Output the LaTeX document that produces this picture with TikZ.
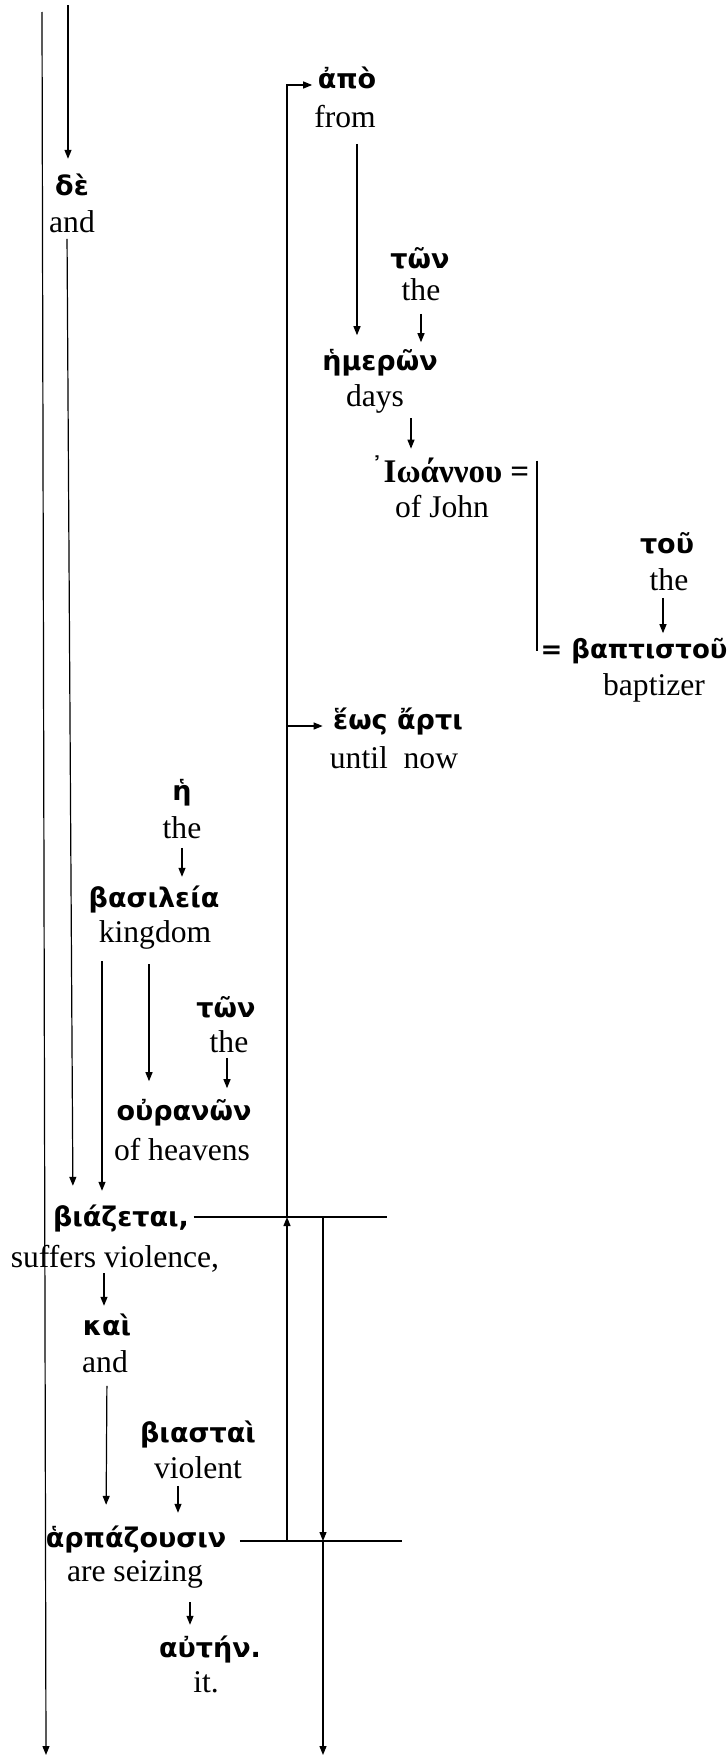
\documentclass[tikz,border=0pt]{standalone}
\usepackage{fontspec}
\setmainfont{Liberation Serif}
\newfontfamily\gkfam{DejaVu Sans}
\usetikzlibrary{arrows.meta}
\tikzset{
  gk/.style={font=\gkfam\bfseries\fontsize{13.5}{15}\selectfont, inner sep=0pt, anchor=base},
  ioa/.style={font=\bfseries\fontsize{16.5}{18}\selectfont, inner sep=0pt, anchor=base},
  en/.style={font=\fontsize{15.8}{18}\selectfont, inner sep=0pt, anchor=base},
  arr/.style={-{Triangle[length=4.5pt,width=3.5pt]}},
}
\begin{document}
\begin{tikzpicture}[x=0.5pt,y=-0.5pt,line width=0.6pt]
\useasboundingbox (0,0) rectangle (728,1756);
% ---- words
\node[gk] (gDe) at (72,195) {δὲ};
\node[en] (eDe) at (72,232) {and};
\node[gk] (gApo) at (347,88) {ἀπὸ};
\node[en] (eApo) at (345,127) {from};
\node[gk] (gTon1) at (420,268) {τῶν};
\node[en] (eTon1) at (421,300) {the};
\node[gk] (gHmer) at (380,370) {ἡμερῶν};
\node[en] (eHmer) at (375,406) {days};
\node[ioa] (gIoa) at (450,482) {{\gkfam\mdseries\fontsize{13}{14}\selectfont\raisebox{3pt}{᾿}}Ιωάννου =};
\node[en] (eIoa) at (442,517) {of John};
\node[gk] (gTou) at (667,553) {τοῦ};
\node[en] (eTou) at (669,590) {the};
\node[gk, font=\gkfam\bfseries\fontsize{13}{15}\selectfont] (gBapt) at (634,658) {= βαπτιστοῦ};
\node[en] (eBapt) at (654,695) {baptizer};
\node[gk] (gEos) at (398,729) {ἕως ἄρτι};
\node[en] (eEos) at (394,768) {until\ \ now};
\node[gk] (gHe) at (182,800) {ἡ};
\node[en] (eHe) at (182,838) {the};
\node[gk] (gBas) at (154,907) {βασιλεία};
\node[en] (eBas) at (155,942) {kingdom};
\node[gk] (gTon2) at (226,1017) {τῶν};
\node[en] (eTon2) at (229,1052) {the};
\node[gk] (gOur) at (184,1120) {οὐρανῶν};
\node[en] (eOur) at (182,1160) {of heavens};
\node[gk] (gBiaz) at (121,1226) {βιάζεται,};
\node[en] (eBiaz) at (115,1267) {suffers violence,};
\node[gk] (gKai) at (107,1335) {καὶ};
\node[en] (eKai) at (105,1372) {and};
\node[gk] (gBiast) at (198,1442) {βιασταὶ};
\node[en] (eBiast) at (198,1478) {violent};
\node[gk] (gHarp) at (136,1547) {ἁρπάζουσιν};
\node[en] (eHarp) at (135,1581) {are seizing};
\node[gk] (gAut) at (210,1657) {αὐτήν.};
\node[en] (eAut) at (206,1692) {it.};
% ---- free ends
\coordinate (t1) at (68,5);
\coordinate (L1) at (42,12);
\coordinate (L2) at (46,1755);
\coordinate (B2) at (323,1755);
% ---- horizontal bars
\draw ([xshift=2pt,yshift=4.5pt]gBiaz.base east) coordinate (hB) -- ++(193,0);
\draw ([xshift=6.5pt,yshift=3pt]gHarp.base east) coordinate (hA) -- ++(162,0);
% ---- connectors
\draw[arr] (L1) -- (L2);
\draw[arr, shorten >=7pt] (t1) -- (gDe.north -| t1);
\draw[arr, shorten <=3pt, shorten >=9pt] (eDe.south -| 67,0) -- (gBiaz.north -| 73,0);
\draw[arr] (hA -| 287,0) -- (hB -| 287,0);
\draw[arr, shorten >=2.5pt] (hB -| 287,0) |- ([yshift=1.5pt]gApo.base west);
\draw[arr, shorten >=5pt] ([yshift=1.5pt]gEos.base west -| 288,0) -- ([yshift=1.5pt]gEos.base west);
\draw[arr] (hB -| 323,0) -- (hA -| 323,0);
\draw[arr] (hA -| 323,0) -- (B2);
\draw[arr, shorten <=8pt, shorten >=6.5pt] (eApo.south -| 357,0) -- (gHmer.north -| 357,0);
\draw[arr, shorten <=6.5pt, shorten >=3pt] (eTon1.south -| 421,0) -- (gHmer.north -| 421,0);
\draw[arr, shorten <=2.5pt, shorten >=3pt] (eHmer.south -| 411,0) -- (gIoa.north -| 411,0);
\draw[shorten <=3pt] (gIoa.north -| 537,0) -- (gBapt.west -| 537,0);
\draw[arr, shorten <=3.5pt, shorten >=2pt] (eTou.south -| 663,0) -- (gBapt.north -| 663,0);
\draw[arr, shorten <=4.5pt, shorten >=4pt] (eHe.south -| 182,0) -- (gBas.north -| 182,0);
\draw[arr, shorten <=6pt, shorten >=6.5pt] (eBas.south -| 102,0) -- (gBiaz.north -| 102,0);
\draw[arr, shorten <=7.5pt, shorten >=8.5pt] (eBas.south -| 149,0) -- (gOur.north -| 149,0);
\draw[arr, shorten <=2.5pt, shorten >=5pt] (eTon2.south -| 227,0) -- (gOur.north -| 227,0);
\draw[arr, shorten <=0.5pt, shorten >=3.5pt] (eBiaz.south -| 104,0) -- (gKai.north -| 104,0);
\draw[arr, shorten <=6.5pt, shorten >=10pt] (eKai.south -| 107,0) -- (gHarp.north -| 106,0);
\draw[arr, shorten <=3.5pt, shorten >=6pt] (eBiast.south -| 178,0) -- (gHarp.north -| 178,0);
\draw[arr, shorten <=7pt, shorten >=5pt] (eHarp.south -| 190,0) -- (gAut.north -| 190,0);
\end{tikzpicture}
\end{document}
